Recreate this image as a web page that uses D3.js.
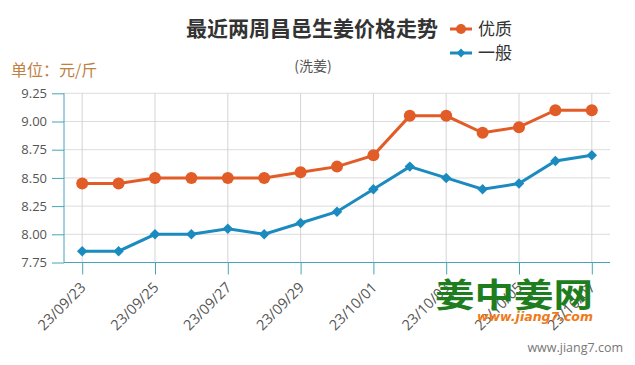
<!DOCTYPE html>
<html><head><meta charset="utf-8">
<script src="https://cdn.jsdelivr.net/npm/d3@7"></script>
<style>body{margin:0;background:#fff;}svg{display:block;}</style>
</head><body>
<svg id="c" width="635" height="365"></svg>
<script>
const dates = ["23/09/23","23/09/24","23/09/25","23/09/26","23/09/27","23/09/28","23/09/29","23/09/30","23/10/01","23/10/02","23/10/03","23/10/04","23/10/05","23/10/06","23/10/07"];
const youzhi = [8.45,8.45,8.5,8.5,8.5,8.5,8.55,8.6,8.7,9.05,9.05,8.9,8.95,9.1,9.1];
const yiban = [7.85,7.85,8.0,8.0,8.05,8.0,8.1,8.2,8.4,8.6,8.5,8.4,8.45,8.65,8.7];
const yTicks = [7.75,8.0,8.25,8.5,8.75,9.0,9.25];
const seriesNames = ["优质","一般"];
const colors = ["#e25c27","#1b8bbf"];
const font = "'Open Sans','Noto Sans CJK SC',sans-serif";
const cjk = "'Noto Sans CJK SC',sans-serif";

const svg = d3.select("#c");
const L=64,R=610,T=93.3,B=262.5;
const x = d3.scalePoint().domain(dates).range([L,R]).padding(0.5);
const y = d3.scaleLinear().domain([7.75,9.25]).range([B,T]);
const axisColor="#45a5b6";

// grid
const g = svg.append("g");
g.selectAll(".hg").data(yTicks).enter().append("line")
 .attr("x1",L).attr("x2",R).attr("y1",d=>y(d)).attr("y2",d=>y(d))
 .attr("stroke","#dcdcdc").attr("stroke-width",1);
const labDates = dates.filter((d,i)=>i%2===0);
g.selectAll(".vg").data(labDates).enter().append("line")
 .attr("x1",d=>x(d)).attr("x2",d=>x(d)).attr("y1",T).attr("y2",B)
 .attr("stroke","#d4d4d4").attr("stroke-width",1);

// y axis
const ya = svg.append("g").attr("transform",`translate(${L},0)`)
 .call(d3.axisLeft(y).tickValues(yTicks).tickFormat(d3.format(".2f")).tickSize(12).tickPadding(5));
ya.select(".domain").attr("stroke",axisColor).attr("d",`M0,${T}V${B}`);
ya.selectAll(".tick line").attr("stroke",axisColor);
ya.selectAll(".tick text").attr("fill","#555").style("font-family",font).style("font-size","13px");

// x axis
const xa = svg.append("g").attr("transform",`translate(0,${B})`)
 .call(d3.axisBottom(x).tickValues(labDates).tickSize(12).tickPadding(4));
xa.select(".domain").attr("stroke",axisColor).attr("d",`M${L},0H${R}`);
xa.selectAll(".tick line").attr("stroke",axisColor);
xa.selectAll(".tick text").attr("fill","#555").style("font-family",font).style("font-size","14.5px")
 .attr("text-anchor","end").attr("x",0).attr("y",0).attr("dy","0").attr("transform","translate(4,26) rotate(-45)");

// lines
const line = d3.line().x((d,i)=>x(dates[i])).y(d=>y(d));
[youzhi,yiban].forEach((s,k)=>{
  svg.append("path").datum(s).attr("d",line).attr("fill","none")
   .attr("stroke",colors[k]).attr("stroke-width",3);
});
svg.selectAll(".c1").data(youzhi).enter().append("circle")
 .attr("cx",(d,i)=>x(dates[i])).attr("cy",d=>y(d)).attr("r",6).attr("fill",colors[0]);
const dia = d3.symbol().type(d3.symbolDiamond2).size(70);
svg.selectAll(".d1").data(yiban).enter().append("path")
 .attr("d",dia).attr("transform",(d,i)=>`translate(${x(dates[i])},${y(d)})`).attr("fill",colors[1]);

// title
svg.append("text").attr("x",312).attr("y",36).attr("text-anchor","middle")
 .style("font-family",cjk).style("font-size","21px").style("font-weight","bold").attr("fill","#333")
 .text("最近两周昌邑生姜价格走势");
svg.append("text").attr("x",313).attr("y",71).attr("text-anchor","middle")
 .style("font-family",cjk).style("font-size","14px").attr("fill","#555").text("(洗姜)");
svg.append("text").attr("x",11).attr("y",76)
 .style("font-family",cjk).style("font-size","16px").attr("fill","#c0803f").text("单位：元/斤");

// legend
seriesNames.forEach((n,k)=>{
  const ly = 29 + k*24;
  svg.append("line").attr("x1",450).attr("x2",472).attr("y1",ly).attr("y2",ly)
   .attr("stroke",colors[k]).attr("stroke-width",3);
  if(k===0) svg.append("circle").attr("cx",461).attr("cy",ly).attr("r",5).attr("fill",colors[k]);
  else svg.append("path").attr("d",d3.symbol().type(d3.symbolDiamond2).size(50)).attr("transform",`translate(461,${ly})`).attr("fill",colors[k]);
  svg.append("text").attr("x",478).attr("y",ly+6).style("font-family",cjk).style("font-size","17px")
   .attr("fill","#333").text(n);
});

// watermark
svg.append("text").attr("x",435).attr("y",307).style("font-family",cjk).style("font-size","33px")
 .style("font-weight","bold").attr("fill","#1e7d1e").attr("textLength",158).attr("lengthAdjust","spacingAndGlyphs").text("姜中姜网");
svg.append("text").attr("x",477).attr("y",321).style("font-family","'DejaVu Sans',sans-serif").style("font-size","13px")
 .style("font-weight","bold").style("font-style","italic").attr("fill","#f07a1a")
 .attr("textLength",116).attr("lengthAdjust","spacingAndGlyphs").text("www.jiang7.com");
svg.append("text").attr("x",623).attr("y",352).attr("text-anchor","end").style("font-family",font).style("font-size","12.5px")
 .attr("fill","#777").text("www.jiang7.com");
</script>
</body></html>
